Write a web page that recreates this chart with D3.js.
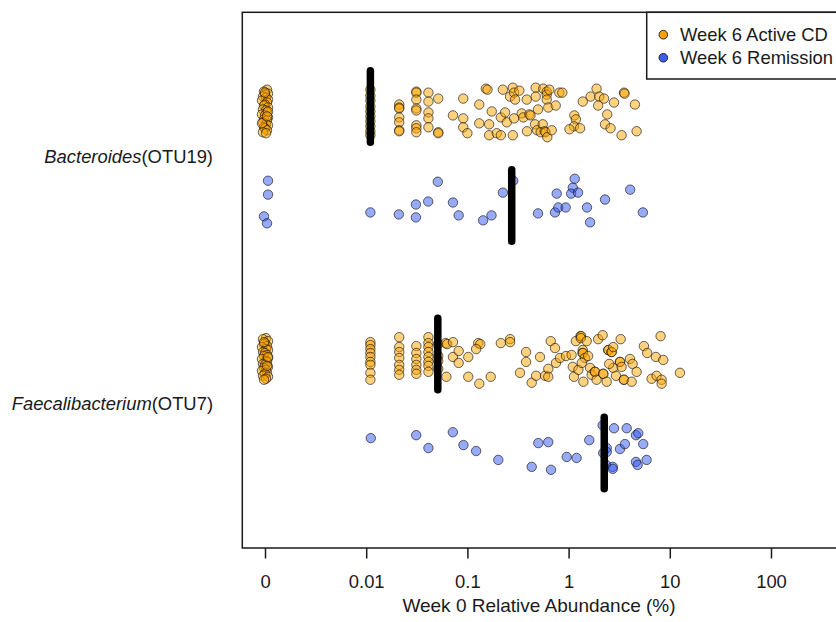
<!DOCTYPE html>
<html><head><meta charset="utf-8">
<script src="https://cdn.jsdelivr.net/npm/d3@7"></script>
<style>body{margin:0;background:#fff} svg{display:block} text{font-family:"Liberation Sans",Arial,sans-serif;fill:#1a1a1a}</style>
</head><body><svg id="c" width="836" height="622"></svg>
<script>
// ---------------- data ----------------
const categories = ["Bacteroides", "Faecalibacterium"];
const otuLabels = ["(OTU19)", "(OTU7)"];
const seriesNames = ["Week 6 Active CD", "Week 6 Remission"];
const tickValues = [0, 0.01, 0.1, 1, 10, 100];
const tickLabels = ["0", "0.01", "0.1", "1", "10", "100"];
const axisTitle = "Week 0 Relative Abundance (%)";
// group order: Bacteroides active, Bacteroides remission, Faecalibacterium active, Faecalibacterium remission
const groupPos = [1, 2, 3.5, 4.5];
const labelPos = [1.5, 4.0];
const medians = [0.011, 0.274, 0.051, 2.25];

// points: [value (%), vertical jitter, horizontal jitter in decades (zeros only)]
const bacteroidesActive = [
 [0,-0.17,0.02],[0,-0.15,-0.01],[0,-0.13,0.03],[0,-0.12,0],[0,-0.10,-0.02],[0,-0.09,0.01],[0,-0.07,0.03],[0,-0.06,-0.03],
 [0,-0.04,0.02],[0,-0.02,0],[0,-0.01,-0.01],[0,0.01,0.03],[0,0.03,-0.02],[0,0.04,0.01],[0,0.06,0.02],[0,0.08,-0.03],
 [0,0.09,0],[0,0.11,0.03],[0,0.13,-0.01],[0,0.14,0.02],[0,0.16,-0.02],[0,0.18,0.01],[0,0.19,0.03],[0,0.21,-0.01],
 [0,0.22,0],[0,0.24,0.02],[0,0.26,-0.02],[0,0.27,0.01],[0,-0.14,0],[0,0.05,0.03],[0,0.17,-0.03],[0,0.10,0.02],
 [0.011,-0.17],[0.011,-0.11],[0.011,-0.06],[0.011,0],[0.011,0.05],[0.011,0.10],[0.011,0.15],[0.011,0.20],[0.011,0.25],[0.011,0.29],
 [0.0212,-0.02],[0.0212,0.01],[0.0212,0.02],[0.0212,0.11],[0.0212,0.16],[0.0212,0.24],[0.0212,0.25],
 [0.0313,-0.15],[0.0313,-0.14],[0.0313,-0.07],[0.0313,0.02],[0.0313,0.04],[0.0313,0.19],[0.0313,0.22],[0.0313,0.26],
 [0.0412,-0.14],[0.0412,-0.05],[0.0412,0.06],[0.0412,0.12],[0.0412,0.21],
 [0.0515,-0.08],[0.0515,0.26],[0.0515,0.27],
 [0.072,0.09],[0.091,-0.08],[0.091,0.12],[0.091,0.21],[0.1,0.27],[0.131,-0.02],[0.131,0.17],
 [0.152,-0.18],[0.158,-0.17],[0.164,0.18],[0.164,0.29],[0.174,0.05],[0.195,0.27],[0.214,0.11],[0.214,0.29],
 [0.224,-0.17],[0.236,0.06],[0.245,0.16],[0.264,-0.10],[0.281,-0.19],[0.281,0.29],[0.289,-0.14],[0.289,0.12],
 [0.296,-0.07],[0.326,-0.16],[0.344,0.07],[0.357,0.11],[0.386,-0.07],[0.41,0.08],[0.42,0.09],[0.388,0.25],
 [0.473,-0.19],[0.473,-0.10],[0.499,0.03],[0.466,0.18],[0.488,0.24],[0.562,-0.18],[0.555,0.18],[0.530,0.26],
 [0.58,0.25],[0.59,0.26],[0.616,0.31],[0.608,-0.15],[0.608,-0.12],[0.608,-0.07],[0.645,-0.17],[0.630,0.01],
 [0.681,0.24],[0.746,-0.01],[0.810,-0.14],[0.867,-0.14],[1.14,0.09],[1.18,0.13],[1.13,0.20],[1.02,0.23],
 [1.30,0.22],[1.38,-0.05],[1.65,-0.10],[1.89,-0.18],[2.01,-0.10],[1.96,-0.01],[2.24,-0.08],[2.41,0.08],
 [2.29,0.18],[2.60,0.22],[2.81,-0.04],[3.53,-0.14],[3.57,-0.13],[4.52,-0.02],[3.34,0.29],[4.70,0.25]
];
const bacteroidesRemission = [
 [0,-0.25,0.03],[0,-0.11,0.03],[0,0.11,-0.01],[0,0.18,0.02],
 [0.011,0.07],[0.021,0.09],[0.031,-0.01],[0.031,0.12],[0.041,-0.04],[0.051,-0.24],[0.072,-0.03],[0.082,0.10],
 [0.143,0.15],[0.173,0.10],[0.224,-0.13],[0.284,-0.25],[0.499,0.08],[0.734,0.07],[0.763,-0.12],[0.791,0.02],
 [0.936,0.02],[1.15,-0.27],[1.10,-0.18],[1.06,-0.12],[1.24,-0.13],[1.52,0.02],[1.63,0.17],[2.29,-0.06],
 [4.06,-0.16],[5.42,0.07]
];
const faecaliActive = [
 [0,-0.16,0.01],[0,-0.15,-0.02],[0,-0.13,0.03],[0,-0.11,0],[0,-0.10,-0.01],[0,-0.08,0.02],[0,-0.07,-0.03],[0,-0.05,0.01],
 [0,-0.04,0.03],[0,-0.02,-0.02],[0,-0.01,0],[0,0.01,0.02],[0,0.02,-0.01],[0,0.04,0.03],[0,0.05,-0.03],[0,0.07,0.01],
 [0,0.08,0.02],[0,0.10,-0.02],[0,0.11,0],[0,0.13,0.03],[0,0.14,-0.01],[0,0.16,0.01],[0,0.17,-0.03],[0,0.19,0.02],
 [0,0.20,0],[0,0.22,-0.02],[0,0.23,0.03],[0,0.25,0.01],[0,0.26,-0.01],[0,0.12,0.02],[0,-0.12,-0.01],[0,0.03,0.03],
 [0.011,-0.12],[0.011,-0.09],[0.011,-0.05],[0.011,-0.01],[0.011,0.03],[0.011,0.08],[0.011,0.11],[0.011,0.19],[0.011,0.26],
 [0.0212,-0.17],[0.0212,-0.07],[0.0212,-0.02],[0.0212,0.04],[0.0212,0.11],[0.0212,0.16],[0.0212,0.21],
 [0.0313,-0.08],[0.0313,-0.01],[0.0313,0.05],[0.0313,0.11],[0.0313,0.16],[0.0313,0.20],
 [0.0412,-0.17],[0.0412,-0.11],[0.0412,-0.07],[0.0412,-0.02],[0.0412,0.03],[0.0412,0.08],[0.0412,0.12],[0.0412,0.18],
 [0.0515,-0.10],[0.0515,0.02],[0.0515,0.07],[0.0515,0.15],
 [0.061,-0.11],[0.063,-0.10],[0.062,0.23],[0.072,-0.12],[0.072,0.03],[0.082,-0.03],[0.082,0.09],[0.102,0.03],
 [0.102,0.23],[0.128,-0.11],[0.134,-0.10],[0.122,-0.05],[0.131,0.30],[0.170,0.23],[0.214,-0.11],[0.264,-0.15],
 [0.264,-0.12],[0.380,-0.02],[0.380,0.08],[0.331,0.19],[0.432,0.29],[0.477,0.22],[0.522,0.03],[0.585,0.22],
 [0.630,0.15],[0.630,0.23],[0.666,-0.13],[0.734,-0.06],[0.751,0.09],[0.822,0.04],[0.943,0.02],[1.07,0.01],
 [1.10,0.13],[1.13,0.23],[1.18,-0.13],[1.25,0.16],[1.31,-0.18],[1.33,-0.18],[1.32,-0.16],[1.38,-0.04],
 [1.37,-0.01],[1.39,-0.01],[1.40,0.28],[1.45,0.04],[1.51,-0.13],[1.56,0.02],[1.35,0.09],[1.63,0.14],
 [1.69,0.21],[1.81,0.18],[1.83,0.18],[1.96,-0.15],[1.89,0.26],[2.17,-0.19],[2.19,0.20],[2.21,0.20],
 [2.38,0.28],[2.46,-0.04],[2.48,-0.04],[2.65,-0.02],[2.67,-0.02],[2.76,-0.07],[2.76,0.14],[2.52,0.10],
 [2.94,0.22],[3.27,-0.15],[3.21,0.08],[3.23,0.08],[3.34,0.13],[3.51,0.26],[3.53,0.26],[4.04,0.05],
 [4.29,0.10],[4.20,0.28],[4.70,0.18],[5.55,-0.08],[5.98,-0.01],[6.61,0.25],[7.29,0.03],[7.41,0.22],
 [8.30,0.26],[8.30,0.30],[8.61,0.06],[8.11,-0.18],[12.6,0.19]
];
const faecaliRemission = [
 [0.0111,-0.15],[0.0312,-0.18],[0.0412,-0.05],[0.0718,-0.21],[0.0914,-0.08],[0.122,-0.02],[0.202,0.07],[0.432,0.14],
 [0.502,-0.10],[0.630,-0.11],[0.670,0.17],[0.958,0.04],[1.20,0.05],[1.60,-0.13],[2.17,-0.28],[2.38,-0.05],
 [2.38,-0.01],[2.20,0.00],[2.34,0.12],[2.73,0.14],[2.73,0.16],[2.81,-0.25],[3.22,-0.04],[3.60,-0.09],
 [3.75,-0.25],[4.63,-0.18],[4.88,-0.20],[5.46,-0.09],[4.63,0.09],[4.81,0.12],[5.90,0.07]
];
const groups = [bacteroidesActive, bacteroidesRemission, faecaliActive, faecaliRemission];
const groupSeries = [0, 1, 0, 1];

// ---------------- styles ----------------
const fills = ["rgba(255,165,0,0.5)", "rgba(50,88,245,0.5)"];
const solid = ["#ffa200", "#3a5cf5"];
const FS = 18.4;

const svg = d3.select("#c");
const x = d3.scaleLog().domain([0.001, 100]).range([265, 771]);
const y = d3.scaleLinear().domain([1, 4.5]).range([106.5, 453]);
const zeroAt = 0.001;
const xv = (v, xj = 0) => x(Math.pow(10, Math.log10(v === 0 ? zeroAt : v) + xj));

const plotL = 242.3, plotT = 12.3, plotB = 548, plotR = 840;

// box
svg.append("rect").attr("x", plotL).attr("y", plotT).attr("width", plotR - plotL).attr("height", plotB - plotT)
  .attr("fill", "none").attr("stroke", "#1a1a1a").attr("stroke-width", 1.5);

// points
groups.forEach((pts, gi) => {
  svg.append("g").selectAll("circle").data(pts).join("circle")
    .attr("cx", d => xv(d[0], d[2] || 0))
    .attr("cy", d => y(groupPos[gi] + d[1]))
    .attr("r", 4.7)
    .attr("fill", fills[groupSeries[gi]])
    .attr("stroke", "rgba(20,20,20,0.65)")
    .attr("stroke-width", 1);
});

// medians
svg.append("g").selectAll("line").data(medians).join("line")
  .attr("x1", d => xv(d)).attr("x2", d => xv(d))
  .attr("y1", (d, i) => y(groupPos[i] - 0.36)).attr("y2", (d, i) => y(groupPos[i] + 0.36))
  .attr("stroke", "#000").attr("stroke-width", 7.5).attr("stroke-linecap", "round");

// x axis
const ax = svg.append("g").attr("transform", `translate(0,${plotB})`)
  .call(d3.axisBottom(x).tickValues(tickValues.map(v => v === 0 ? zeroAt : v))
    .tickFormat((d, i) => tickLabels[i]).tickSize(10.5).tickPadding(16.3));
ax.select(".domain").remove();
ax.selectAll(".tick line").attr("stroke", "#1a1a1a").attr("stroke-width", 1.5);
ax.selectAll(".tick text").attr("font-size", FS).attr("fill", "#1a1a1a")
  .attr("font-family", '"Liberation Sans",Arial,sans-serif');

svg.append("text").attr("x", 539).attr("y", 611.5).attr("text-anchor", "middle")
  .attr("font-size", 19).text(axisTitle);

// y category labels
categories.forEach((c, i) => {
  const t = svg.append("text").attr("x", 213).attr("y", y(labelPos[i]) + 6.6)
    .attr("text-anchor", "end").attr("font-size", FS);
  t.append("tspan").attr("font-style", "italic").text(c);
  t.append("tspan").text(otuLabels[i]);
});

// legend
const lg = svg.append("g");
lg.append("rect").attr("x", 646.7).attr("y", plotT).attr("width", 200).attr("height", 79 - plotT)
  .attr("fill", "#fff").attr("stroke", "#1a1a1a").attr("stroke-width", 1.5);
seriesNames.forEach((s, i) => {
  lg.append("circle").attr("cx", 663.3).attr("cy", 34.7 + i * 23).attr("r", 4.3)
    .attr("fill", solid[i]).attr("stroke", "#222").attr("stroke-width", 1);
  lg.append("text").attr("x", 680).attr("y", 41.3 + i * 23).attr("font-size", FS).text(s);
});
</script></body></html>
